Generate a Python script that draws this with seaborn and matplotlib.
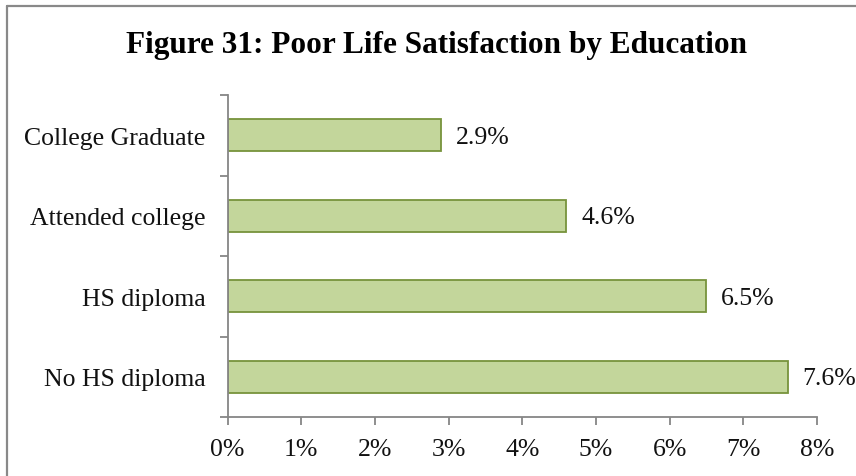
import matplotlib
matplotlib.use("Agg")
import matplotlib.pyplot as plt
from matplotlib.lines import Line2D
from matplotlib.ticker import FixedLocator, FuncFormatter
import seaborn as sns
import pandas as pd

categories = ["College Graduate", "Attended college", "HS diploma", "No HS diploma"]
values = [2.9, 4.6, 6.5, 7.6]
x_ticks = [0, 1, 2, 3, 4, 5, 6, 7, 8]
title = "Figure 31: Poor Life Satisfaction by Education"

sns.set_style("white")
plt.rcParams["font.family"] = ["Liberation Serif", "DejaVu Serif"]

df = pd.DataFrame({"category": categories, "value": values})

fig = plt.figure(figsize=(8.56, 4.77), dpi=100)
ax = fig.add_axes([227.5 / 856, 1 - 418 / 477, (817 - 227.5) / 856, (418 - 96) / 477])

sns.barplot(data=df, x="value", y="category", order=categories, orient="h",
            color="#C3D69B", saturation=1, width=0.4, edgecolor="#77933C",
            linewidth=1.3, ax=ax)

for i, v in enumerate(values):
    ax.text(v + 0.2, i + 0.02, f"{v:.1f}%", va="center", ha="left", fontsize=18.5, color="#111111")

ax.set_xlim(0, 8)
ax.set_ylim(3.5, -0.5)
ax.set_xticks(x_ticks)
ax.xaxis.set_major_formatter(FuncFormatter(lambda x, _: f"{x:.0f}%"))
ax.yaxis.set_minor_locator(FixedLocator([-0.5, 0.5, 1.5, 2.5, 3.5]))
ax.tick_params(axis="y", which="major", left=False, length=0, pad=16, labelsize=18.5,
               labelcolor="#111111")
ax.tick_params(axis="y", which="minor", left=True, length=6, width=1.3, color="#868686",
               direction="out")
ax.tick_params(axis="x", which="major", bottom=True, length=6, width=1.3, color="#868686",
               direction="out", pad=9, labelsize=18.5, labelcolor="#111111")
ax.set_xlabel("")
ax.set_ylabel("")

for side in ["top", "right"]:
    ax.spines[side].set_visible(False)
for side in ["left", "bottom"]:
    ax.spines[side].set_color("#868686")
    ax.spines[side].set_linewidth(1.3)

fig.text(437 / 856, 1 - 45 / 477, title, ha="center", va="center",
         fontsize=22.5, fontweight="bold", color="#000000")

# outer frame: left and top edges
fx = 7.5 / 856
fy = 1 - 6.5 / 477
fig.add_artist(Line2D([fx, fx], [0, fy], transform=fig.transFigure, color="#898989", linewidth=1.6))
fig.add_artist(Line2D([fx, 1], [fy, fy], transform=fig.transFigure, color="#898989", linewidth=1.6))

fig.savefig("out.png", dpi=100)
